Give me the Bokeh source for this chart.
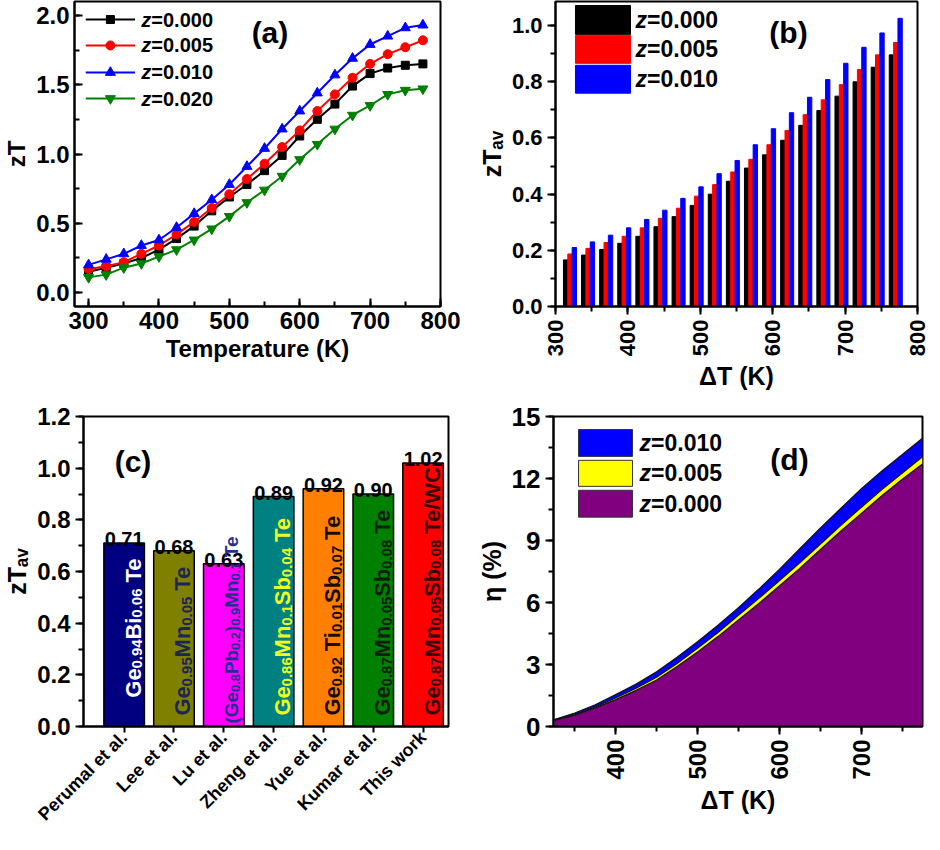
import math
from bokeh.plotting import figure
from bokeh.layouts import column, row
from bokeh.models import (Range1d, SingleIntervalTicker, FixedTicker,
                          PrintfTickFormatter, ColumnDataSource)
from bokeh.core.properties import value
from bokeh.embed import file_html
from bokeh.resources import INLINE

FONT = "Liberation Sans"

# ---------------- data: panel (a) ----------------
temperature = [300, 325, 350, 375, 400, 425, 450, 475, 500, 525,
               550, 575, 600, 625, 650, 675, 700, 725, 750, 775]
zt_z000 = [0.15, 0.18, 0.21, 0.25, 0.31, 0.39, 0.48, 0.59, 0.69, 0.78,
           0.88, 0.99, 1.13, 1.25, 1.36, 1.49, 1.58, 1.62, 1.64, 1.65]
zt_z005 = [0.17, 0.19, 0.22, 0.28, 0.34, 0.42, 0.51, 0.61, 0.71, 0.82,
           0.93, 1.05, 1.17, 1.31, 1.43, 1.55, 1.65, 1.72, 1.77, 1.82]
zt_z010 = [0.20, 0.24, 0.28, 0.34, 0.38, 0.47, 0.57, 0.67, 0.78, 0.91,
           1.04, 1.18, 1.31, 1.44, 1.57, 1.69, 1.79, 1.85, 1.91, 1.93]
zt_z020 = [0.11, 0.13, 0.18, 0.21, 0.26, 0.31, 0.38, 0.46, 0.55, 0.65,
           0.74, 0.84, 0.96, 1.07, 1.18, 1.28, 1.35, 1.43, 1.46, 1.47]
legend_a = ["=0.000", "=0.005", "=0.010", "=0.020"]

# ---------------- data: panel (b) ----------------
delta_T = [325, 350, 375, 400, 425, 450, 475, 500, 525, 550,
           575, 600, 625, 650, 675, 700, 725, 750, 775]
ztav_z000 = [0.166, 0.183, 0.203, 0.225, 0.250, 0.284, 0.320, 0.360, 0.400, 0.446,
             0.493, 0.540, 0.592, 0.645, 0.698, 0.749, 0.800, 0.852, 0.896]
ztav_z005 = [0.187, 0.207, 0.228, 0.250, 0.280, 0.314, 0.350, 0.393, 0.434, 0.479,
             0.524, 0.576, 0.627, 0.683, 0.736, 0.790, 0.844, 0.896, 0.940]
ztav_z010 = [0.210, 0.230, 0.254, 0.280, 0.310, 0.343, 0.385, 0.426, 0.473, 0.520,
             0.576, 0.633, 0.690, 0.745, 0.808, 0.866, 0.923, 0.974, 1.026]
legend_b = ["=0.000", "=0.005", "=0.010"]

# ---------------- data: panel (c) ----------------
references = ["Perumal et al.", "Lee et al.", "Lu et al.", "Zheng et al.",
              "Yue et al.", "Kumar et al.", "This work"]
ztav_reported = [0.71, 0.68, 0.63, 0.89, 0.92, 0.90, 1.02]
bar_colors = ["#000080", "#808000", "#ff00ff", "#008080", "#ff8000", "#008000", "#ff0000"]
formula_colors = ["#ffffff", "#1c2656", "#1f2f8f", "#eeff22", "#1a0d00", "#0d1f0d", "#3a0000"]
formulas = [
    [("Ge", 0), ("0.94", 1), ("Bi", 0), ("0.06", 1), (" Te", 0)],
    [("Ge", 0), ("0.95", 1), ("Mn", 0), ("0.05", 1), (" Te", 0)],
    [("(Ge", 0), ("0.8", 1), ("Pb", 0), ("0.2", 1), (")", 0), ("0.9", 1), ("Mn", 0), ("0.1", 1), (" Te", 0)],
    [("Ge", 0), ("0.86", 1), ("Mn", 0), ("0.1", 1), ("Sb", 0), ("0.04", 1), (" Te", 0)],
    [("Ge", 0), ("0.92", 1), (" Ti", 0), ("0.01", 1), ("Sb", 0), ("0.07", 1), (" Te", 0)],
    [("Ge", 0), ("0.87", 1), ("Mn", 0), ("0.05", 1), ("Sb", 0), ("0.08", 1), (" Te", 0)],
    [("Ge", 0), ("0.87", 1), ("Mn", 0), ("0.05", 1), ("Sb", 0), ("0.08", 1), (" Te/WC", 0)],
]

# ---------------- data: panel (d) ----------------
eta_z000 = [0.30, 0.55, 0.90, 1.30, 1.75, 2.25, 2.90, 3.60, 4.35, 5.15,
            5.95, 6.80, 7.65, 8.55, 9.45, 10.30, 11.15, 11.95, 12.70]
eta_z005 = [0.32, 0.58, 0.95, 1.38, 1.85, 2.38, 3.05, 3.78, 4.55, 5.38,
            6.20, 7.05, 7.92, 8.82, 9.72, 10.60, 11.45, 12.25, 13.05]
eta_z010 = [0.34, 0.65, 1.05, 1.55, 2.05, 2.65, 3.35, 4.10, 4.90, 5.75,
            6.65, 7.60, 8.60, 9.60, 10.55, 11.50, 12.35, 13.15, 13.95]
legend_d = ["=0.010", "=0.005", "=0.000"]


def style(p, inward, tick_size, label_size="25px"):
    p.background_fill_color = "white"
    p.border_fill_color = "white"
    p.outline_line_color = "black"
    p.outline_line_width = 2
    p.xgrid.visible = False
    p.ygrid.visible = False
    for ax in (p.xaxis[0], p.yaxis[0]):
        ax.axis_line_width = 2
        ax.axis_line_color = "black"
        ax.major_tick_line_width = 2
        ax.minor_tick_line_width = 2
        ax.major_tick_line_color = "black"
        ax.minor_tick_line_color = "black"
        if inward:
            ax.major_tick_in, ax.major_tick_out = 8, 0
            ax.minor_tick_in, ax.minor_tick_out = 5, 0
        else:
            ax.major_tick_in, ax.major_tick_out = 0, 8
            ax.minor_tick_in, ax.minor_tick_out = 0, 5
        ax.major_label_text_font = FONT
        ax.major_label_text_font_style = "bold"
        ax.major_label_text_font_size = tick_size
        ax.major_label_text_color = "black"
        ax.axis_label_text_font = FONT
        ax.axis_label_text_font_style = "bold"
        ax.axis_label_text_font_size = label_size
        ax.axis_label_text_color = "black"
        ax.axis_label_standoff = 3


def put_text(p, x, y, txt, size, style_="bold", align="left", baseline="middle", color="black"):
    p.text(x=[x], y=[y], text=[txt], text_font=value(FONT), text_font_style=style_,
           text_font_size=size, text_align=align, text_baseline=baseline, text_color=color)


common = dict(output_backend="svg", toolbar_location=None)

# ================= panel (a) =================
pa = figure(width=462, height=398, x_range=Range1d(280, 800), y_range=Range1d(-0.1, 2.1),
            min_border_left=73, min_border_right=22, min_border_top=1, min_border_bottom=92, **common)
style(pa, True, "24px", "24px")
pa.xaxis.ticker = SingleIntervalTicker(interval=100, num_minor_ticks=2)
pa.yaxis.ticker = SingleIntervalTicker(interval=0.5, num_minor_ticks=2)
pa.yaxis.formatter = PrintfTickFormatter(format="%.1f")
pa.xaxis.axis_label = "Temperature (K)"
pa.yaxis.axis_label = "zT"

series_a = [(zt_z000, "#000000", "square", 8),
            (zt_z005, "#ff0000", "circle", 9),
            (zt_z010, "#0000ff", "triangle", 10),
            (zt_z020, "#008000", "inverted_triangle", 10)]
for ys, col, mk, sz in series_a:
    pa.line(temperature, ys, line_color=col, line_width=2)
    pa.scatter(temperature, ys, marker=mk, size=sz, fill_color=col, line_color=col)

rows_a = [1.970, 1.783, 1.588, 1.400]
for (ys, col, mk, sz), yy, lab in zip(series_a, rows_a, legend_a):
    pa.line([296, 366], [yy, yy], line_color=col, line_width=2)
    pa.scatter([331], [yy], marker=mk, size=sz, fill_color=col, line_color=col)
    put_text(pa, 374.9, yy, "z", "20px", "bold italic")
    put_text(pa, 389.1, yy, lab, "20px")
put_text(pa, 557.7, 1.876, "(a)", "30px", align="center")

# ================= panel (b) =================
pb = figure(width=468, height=398, x_range=Range1d(300, 800), y_range=Range1d(0, 1.086),
            min_border_left=93, min_border_right=13, min_border_top=1, min_border_bottom=91, **common)
style(pb, False, "22px", "25px")
pb.xaxis.ticker = SingleIntervalTicker(interval=100, num_minor_ticks=2)
pb.yaxis.ticker = SingleIntervalTicker(interval=0.2, num_minor_ticks=2)
pb.yaxis.formatter = PrintfTickFormatter(format="%.1f")
pb.xaxis.major_label_orientation = math.pi / 2
pb.xaxis.major_label_text_font_size = "22px"
pb.xaxis.axis_label = "ΔT (K)"
pb.yaxis.axis_label = "zTₐᵥ"

for ys, col, off in [(ztav_z000, "#000000", -11), (ztav_z005, "#ff0000", -5), (ztav_z010, "#0000ff", 1)]:
    src = ColumnDataSource(dict(x=[d + off for d in delta_T], top=ys))
    pb.vbar(x="x", top="top", bottom=0, width=6, source=src, fill_color=col, line_color=col)

quads_b = [(1.0718, 0.9689, "#000000"), (0.9653, 0.8660, "#ff0000"), (0.8589, 0.7595, "#0000ff")]
rows_b = [1.0204, 0.9156, 0.8092]
for (t, b, col), yy, lab in zip(quads_b, rows_b, legend_b):
    pb.quad(left=327.6, right=403.6, top=t, bottom=b, fill_color=col, line_color=col)
    put_text(pb, 410.5, yy, "z", "23px", "bold italic")
    put_text(pb, 426.4, yy, lab, "23px")
put_text(pb, 621.8, 0.976, "(b)", "30px", align="center")

# ================= panel (c) =================
C_X0, C_X1 = 0.184, 7.51
pc = figure(width=462, height=436, x_range=Range1d(C_X0, C_X1), y_range=Range1d(0, 1.2001),
            min_border_left=79, min_border_right=14, min_border_top=16, min_border_bottom=108, **common)
style(pc, False, "24px", "25px")
xpos = list(range(1, len(references) + 1))
pc.xaxis.ticker = FixedTicker(ticks=xpos, minor_ticks=[])
pc.xaxis.major_label_overrides = {i: name for i, name in zip(xpos, references)}
pc.xaxis.major_label_orientation = math.pi / 4
pc.xaxis.major_label_text_font_size = "18px"
pc.xaxis.major_label_standoff = 2
pc.xaxis.major_tick_out = 6
pc.yaxis.ticker = SingleIntervalTicker(interval=0.2, num_minor_ticks=2)
pc.yaxis.formatter = PrintfTickFormatter(format="%.1f")
pc.yaxis.axis_label = "zTₐᵥ"

pc.vbar(x=xpos, top=ztav_reported, bottom=0, width=0.814, fill_color=bar_colors,
        line_color="black", line_width=1.5)
pc.text(x=xpos, y=[v + 0.015 for v in ztav_reported], text=["%.2f" % v for v in ztav_reported],
        text_font=value(FONT), text_font_style="bold", text_font_size="20px",
        text_align="center", text_baseline="alphabetic", text_color="black")

# formula labels inside bars (rotated, with subscripts)
WID = {'G': .778, 'e': .556, 'B': .722, 'i': .278, 'T': .611, 'M': .833, 'n': .611,
       'P': .667, 'b': .611, 'S': .667, 'W': .944, 'C': .722, '/': .278, '(': .333,
       ')': .333, ' ': .278, '.': .278}


def tw(s):
    return sum(WID.get(ch, .556) for ch in s)


PX_X = 369.0 / (C_X1 - C_X0)
PX_Y = 312.0 / 1.2001
start_px = [29, 11, 3, 11, 11, 11, 11]
main_fs = [22, 22, 19, 22, 22, 22, 22]
sub_fs = [15, 15, 13, 15, 15, 15, 15]
fx, fy, ft, fsz, fcol = [], [], [], [], []
for i, segs in enumerate(formulas):
    cum = start_px[i]
    ms, ss = main_fs[i], sub_fs[i]
    base_main = 0.41 * ms
    base_sub = base_main + 0.2 * ms
    for txt, is_sub in segs:
        size = ss if is_sub else ms
        lead = len(txt) - len(txt.lstrip(" "))
        cum += lead * WID[' '] * size
        txt = txt.lstrip(" ")
        fx.append(xpos[i] + (base_sub if is_sub else base_main) / PX_X)
        fy.append(cum / PX_Y)
        ft.append(txt)
        fsz.append("%dpx" % size)
        fcol.append(formula_colors[i])
        cum += tw(txt) * size
fsrc = ColumnDataSource(dict(x=fx, y=fy, text=ft, size=fsz, color=fcol))
pc.text(x="x", y="y", text="text", source=fsrc, angle=math.pi / 2,
        text_font=value(FONT), text_font_style="bold", text_font_size="size",
        text_color="color", text_align="left", text_baseline="alphabetic")
put_text(pc, 1.177, 1.027, "(c)", "30px", align="center")

# ================= panel (d) =================
pd_ = figure(width=468, height=436, x_range=Range1d(324, 775), y_range=Range1d(0, 15),
             min_border_left=91, min_border_right=8, min_border_top=18, min_border_bottom=107, **common)
style(pd_, False, "26px", "25px")
pd_.xaxis.ticker = SingleIntervalTicker(interval=100, num_minor_ticks=2)
pd_.yaxis.ticker = SingleIntervalTicker(interval=3, num_minor_ticks=2)
pd_.yaxis.formatter = PrintfTickFormatter(format="%d")
pd_.xaxis.major_label_orientation = math.pi / 2
pd_.xaxis.major_label_text_font_size = "24px"
pd_.xaxis.axis_label = "ΔT (K)"
pd_.yaxis.axis_label = "η (%)"

pd_.varea(x=delta_T, y1=eta_z005, y2=eta_z010, fill_color="#0000ff")
pd_.varea(x=delta_T, y1=eta_z000, y2=eta_z005, fill_color="#ffff00")
pd_.varea(x=delta_T, y1=0, y2=eta_z000, fill_color="#800080")
for ys in (eta_z010, eta_z005, eta_z000):
    pd_.line(delta_T, ys, line_color="#111111", line_width=1.2)

quads_d = [(14.37, 13.07, "#0000ff"), (12.88, 11.62, "#ffff00"), (11.43, 10.13, "#800080")]
rows_d = [13.72, 12.25, 10.78]
for (t, b, col), yy, lab in zip(quads_d, rows_d, legend_d):
    pd_.quad(left=354.6, right=420.6, top=t, bottom=b, fill_color=col, line_color="#333333", line_width=1)
    put_text(pd_, 429.1, yy, "z", "23px", "bold italic")
    put_text(pd_, 443.2, yy, lab, "23px")
put_text(pd_, 612.4, 12.93, "(d)", "30px", align="center")

layout = column(row(pa, pb), row(pc, pd_))
open("out.html", "w").write(file_html(layout, INLINE, title="zT figure"))
